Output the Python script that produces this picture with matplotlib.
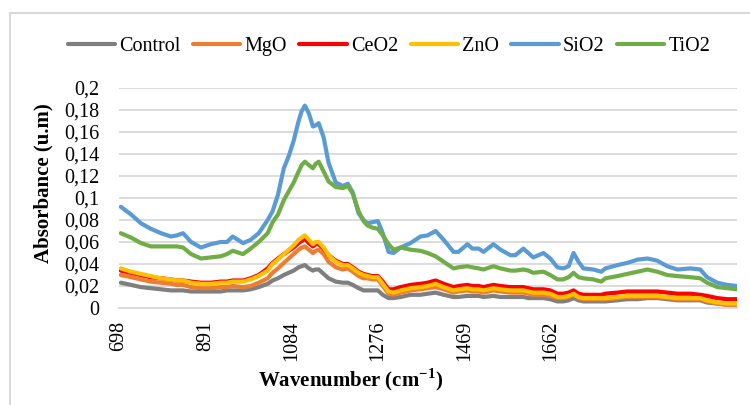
import matplotlib
matplotlib.use("Agg")
import matplotlib.pyplot as plt
from matplotlib.lines import Line2D

plt.rcParams["mathtext.fontset"] = "custom"
plt.rcParams["mathtext.bf"] = "Liberation Serif:bold"
plt.rcParams["mathtext.rm"] = "Liberation Serif"

# ---------------- data ----------------
wavenumber = [702, 725, 747, 769, 792, 814, 827, 841, 859, 881, 903, 925, 939, 952, 975, 992,
              1010, 1030, 1041, 1053, 1066, 1077, 1088, 1099, 1106, 1113, 1122, 1131, 1137, 1144,
              1155, 1166, 1182, 1198, 1209, 1220, 1233, 1244, 1253, 1264, 1276, 1287, 1300, 1311,
              1327, 1349, 1371, 1387, 1405, 1423, 1445, 1456, 1476, 1487, 1501, 1512, 1534, 1550,
              1572, 1583, 1601, 1612, 1623, 1646, 1661, 1677, 1690, 1702, 1713, 1724, 1735, 1757,
              1775, 1784, 1811, 1833, 1856, 1878, 1900, 1922, 1945, 1974, 1996, 2011, 2034, 2056, 2078]

sio2 = [0.092, 0.085, 0.077, 0.072, 0.068, 0.065, 0.066, 0.068, 0.060, 0.055, 0.058, 0.060, 0.060, 0.065, 0.059, 0.062,
        0.068, 0.080, 0.088, 0.103, 0.127, 0.138, 0.152, 0.170, 0.179, 0.184, 0.177, 0.165, 0.166, 0.168,
        0.155, 0.132, 0.114, 0.111, 0.113, 0.105, 0.086, 0.080, 0.077, 0.078, 0.079, 0.068, 0.051, 0.050,
        0.055, 0.059, 0.065, 0.066, 0.070, 0.062, 0.051, 0.051, 0.058, 0.054, 0.054, 0.051, 0.058, 0.053,
        0.048, 0.048, 0.054, 0.050, 0.046, 0.050, 0.045, 0.037, 0.036, 0.038, 0.050, 0.042, 0.036, 0.035,
        0.033, 0.036, 0.039, 0.041, 0.044, 0.045, 0.043, 0.038, 0.035, 0.036, 0.035, 0.028, 0.023, 0.021, 0.020]

tio2 = [0.068, 0.064, 0.059, 0.056, 0.056, 0.056, 0.056, 0.055, 0.049, 0.045, 0.046, 0.047, 0.049, 0.052, 0.049, 0.054,
        0.060, 0.068, 0.078, 0.085, 0.098, 0.106, 0.114, 0.124, 0.130, 0.133, 0.130, 0.127, 0.131, 0.133,
        0.124, 0.115, 0.110, 0.109, 0.111, 0.104, 0.088, 0.079, 0.075, 0.073, 0.072, 0.066, 0.058, 0.053,
        0.055, 0.053, 0.052, 0.050, 0.047, 0.042, 0.036, 0.037, 0.038, 0.037, 0.036, 0.035, 0.038, 0.036,
        0.034, 0.034, 0.035, 0.034, 0.032, 0.033, 0.030, 0.026, 0.026, 0.028, 0.032, 0.028, 0.027, 0.026,
        0.024, 0.027, 0.029, 0.031, 0.033, 0.035, 0.033, 0.030, 0.029, 0.028, 0.027, 0.023, 0.019, 0.018, 0.017]

zno = [0.036, 0.033, 0.031, 0.029, 0.027, 0.026, 0.025, 0.025, 0.023, 0.022, 0.022, 0.023, 0.023, 0.024, 0.024, 0.026,
       0.029, 0.034, 0.040, 0.044, 0.049, 0.053, 0.057, 0.062, 0.064, 0.066, 0.062, 0.058, 0.060, 0.060,
       0.055, 0.048, 0.042, 0.039, 0.039, 0.036, 0.032, 0.030, 0.029, 0.028, 0.028, 0.022, 0.015, 0.014,
       0.016, 0.018, 0.019, 0.020, 0.022, 0.019, 0.016, 0.017, 0.018, 0.017, 0.017, 0.016, 0.018, 0.017,
       0.016, 0.016, 0.016, 0.015, 0.014, 0.014, 0.013, 0.010, 0.010, 0.011, 0.013, 0.010, 0.009, 0.009,
       0.009, 0.009, 0.010, 0.011, 0.011, 0.011, 0.011, 0.010, 0.009, 0.009, 0.009, 0.007, 0.005, 0.004, 0.004]

ceo2 = [0.034, 0.032, 0.030, 0.028, 0.027, 0.026, 0.025, 0.025, 0.024, 0.023, 0.023, 0.024, 0.024, 0.025, 0.025, 0.027,
        0.030, 0.036, 0.041, 0.045, 0.049, 0.052, 0.055, 0.059, 0.061, 0.063, 0.059, 0.056, 0.058, 0.058,
        0.054, 0.048, 0.043, 0.040, 0.040, 0.037, 0.033, 0.031, 0.030, 0.029, 0.029, 0.024, 0.017, 0.017,
        0.019, 0.021, 0.022, 0.023, 0.025, 0.022, 0.019, 0.020, 0.021, 0.020, 0.020, 0.019, 0.021, 0.020,
        0.019, 0.019, 0.019, 0.018, 0.017, 0.017, 0.016, 0.013, 0.013, 0.014, 0.016, 0.013, 0.012, 0.012,
        0.012, 0.013, 0.014, 0.015, 0.015, 0.015, 0.015, 0.014, 0.013, 0.013, 0.012, 0.011, 0.009, 0.008, 0.008]

mgo = [0.030, 0.028, 0.026, 0.024, 0.023, 0.022, 0.021, 0.021, 0.019, 0.018, 0.018, 0.019, 0.019, 0.020, 0.019, 0.020,
       0.023, 0.027, 0.032, 0.036, 0.041, 0.045, 0.049, 0.053, 0.055, 0.056, 0.053, 0.050, 0.052, 0.053,
       0.049, 0.042, 0.037, 0.035, 0.036, 0.033, 0.029, 0.027, 0.027, 0.026, 0.026, 0.020, 0.013, 0.012,
       0.014, 0.016, 0.017, 0.018, 0.019, 0.017, 0.014, 0.015, 0.016, 0.015, 0.015, 0.014, 0.016, 0.015,
       0.014, 0.014, 0.014, 0.013, 0.012, 0.012, 0.011, 0.009, 0.009, 0.010, 0.012, 0.009, 0.008, 0.008,
       0.008, 0.008, 0.009, 0.010, 0.010, 0.010, 0.010, 0.009, 0.008, 0.008, 0.008, 0.006, 0.004, 0.003, 0.003]

control = [0.023, 0.021, 0.019, 0.018, 0.017, 0.016, 0.016, 0.016, 0.015, 0.015, 0.015, 0.015, 0.016, 0.016, 0.016, 0.017,
           0.019, 0.022, 0.025, 0.027, 0.030, 0.032, 0.034, 0.037, 0.038, 0.039, 0.036, 0.034, 0.035, 0.035,
           0.031, 0.027, 0.024, 0.023, 0.023, 0.021, 0.018, 0.016, 0.016, 0.016, 0.016, 0.012, 0.009, 0.009,
           0.010, 0.012, 0.012, 0.013, 0.014, 0.012, 0.010, 0.010, 0.011, 0.011, 0.011, 0.010, 0.011, 0.010,
           0.010, 0.010, 0.010, 0.009, 0.009, 0.009, 0.008, 0.006, 0.006, 0.007, 0.009, 0.007, 0.006, 0.006,
           0.006, 0.006, 0.007, 0.008, 0.008, 0.009, 0.009, 0.008, 0.007, 0.007, 0.007, 0.005, 0.004, 0.003, 0.003]

series_names = ["Control", "MgO", "CeO2", "ZnO", "SiO2", "TiO2"]
series_values = [control, mgo, ceo2, zno, sio2, tio2]
series_colors = ["#7F7F7F", "#ED7D31", "#FF0000", "#FFC000", "#5B9BD5", "#70AD47"]

x_ticks = [698, 891, 1084, 1276, 1469, 1662]
y_ticks = [0, 0.02, 0.04, 0.06, 0.08, 0.1, 0.12, 0.14, 0.16, 0.18, 0.2]
y_tick_labels = ["0", "0,02", "0,04", "0,06", "0,08", "0,1", "0,12", "0,14", "0,16", "0,18", "0,2"]

# ---------------- figure ----------------
W, H = 750, 405
fig = plt.figure(figsize=(W / 100, H / 100), dpi=100)
serif = ["Liberation Serif", "DejaVu Serif"]

# chart-area frame (light grey, left & top visible)
fig.add_artist(Line2D([10 / W, 10 / W], [0, 1 - 13 / H], transform=fig.transFigure,
                      color="#D9D9D9", lw=1.5))
fig.add_artist(Line2D([10 / W, 1], [1 - 13 / H, 1 - 13 / H], transform=fig.transFigure,
                      color="#D9D9D9", lw=1.5))

left, right, top, bottom = 119, 737, 88, 308
ax = fig.add_axes([left / W, 1 - bottom / H, (right - left) / W, (bottom - top) / H])

for name, vals, col in zip(series_names, series_values, series_colors):
    ax.plot(wavenumber, vals, color=col, lw=3.0, label=name, solid_capstyle="round")

ax.set_xlim(698, 2078)
ax.set_ylim(0, 0.2)
ax.set_yticks(y_ticks)
ax.set_yticklabels(y_tick_labels, fontfamily=serif, fontsize=14.5)
ax.set_xticks(x_ticks)
ax.set_xticklabels([str(v) for v in x_ticks], rotation=90, fontfamily=serif, fontsize=14.5)
ax.tick_params(axis="both", length=0)
ax.tick_params(axis="y", pad=14)
ax.tick_params(axis="x", pad=9)

ax.grid(axis="y", color="#D9D9D9", lw=1.3)
ax.set_axisbelow(True)
for s in ["top", "right", "left"]:
    ax.spines[s].set_visible(False)
ax.spines["bottom"].set_color("#D9D9D9")
ax.spines["bottom"].set_linewidth(1.3)

fig.text(43 / W, 1 - 183 / H, "Absorbance (u.m)", rotation=90, ha="center", va="center",
         fontfamily=serif, fontsize=15, fontweight="bold")
fig.text(258 / W, 1 - 380 / H, "Wavenumber (cm$^{\\mathbf{-1}}$)", ha="left", va="center",
         fontfamily=serif, fontsize=15, fontweight="bold")

handles, labels = ax.get_legend_handles_labels()
leg = fig.legend(handles, labels, loc="center", bbox_to_anchor=(389 / W, 1 - 46 / H), ncol=6,
                 frameon=False, prop={"family": serif, "size": 14.5},
                 handlelength=2.35, handletextpad=0.2, columnspacing=0.62, borderaxespad=0)

fig.savefig("out.png", dpi=100)
